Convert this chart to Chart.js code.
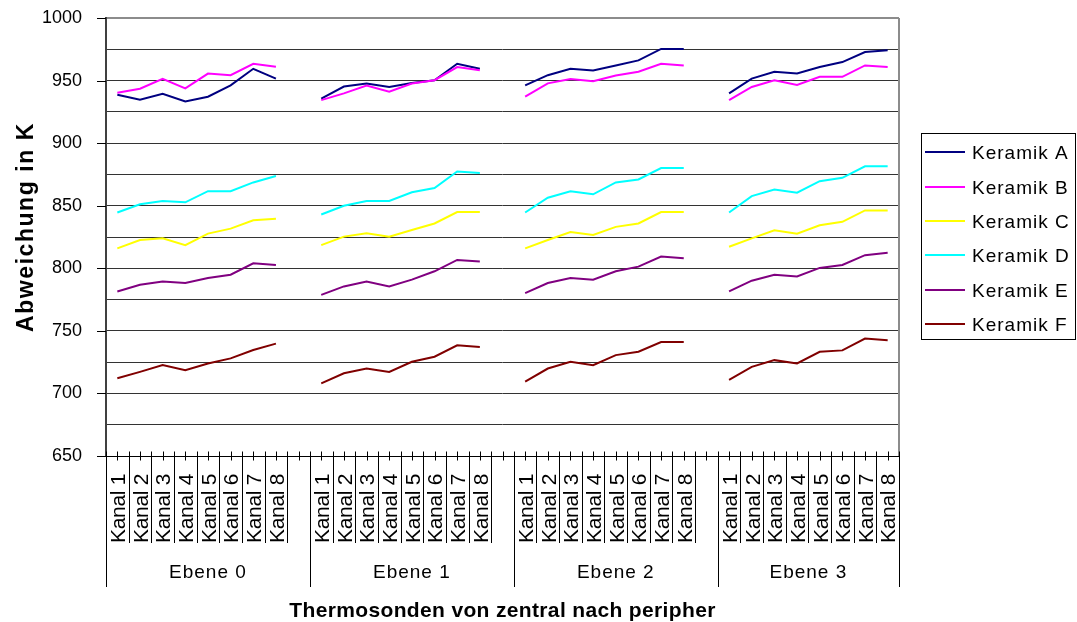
<!DOCTYPE html>
<html lang="de">
<head>
<meta charset="utf-8">
<title>Abweichung je Thermosonde</title>
<script src="https://cdn.jsdelivr.net/npm/chart.js@4/dist/chart.umd.min.js"></script>
<style>
  html, body { margin: 0; padding: 0; background: #fff; }
  canvas { display: block; }
</style>
</head>
<body>
<canvas id="chart" width="1077" height="622"></canvas>
<script>
// Messebenen und Kanäle (Thermosonden von zentral nach peripher)
const levels = ['Ebene 0', 'Ebene 1', 'Ebene 2', 'Ebene 3'];
const channels = ['Kanal 1', 'Kanal 2', 'Kanal 3', 'Kanal 4', 'Kanal 5', 'Kanal 6', 'Kanal 7', 'Kanal 8'];
const yTicks = [650, 700, 750, 800, 850, 900, 950, 1000];

// Werte je Keramik, je Ebene acht Kanäle hintereinander
const keramikA = [
  938.7, 934.7, 939.5, 933.3, 937.1, 946.2, 959.4, 951.6,
  935.5, 945.2, 947.6, 944.9, 948.1, 950.3, 963.4, 959.4,
  946.2, 954.3, 959.4, 958.1, 962.1, 966.1, 975.3, 975.3,
  939.8, 951.6, 957.0, 955.6, 960.8, 964.8, 972.8, 974.2
];
const keramikB = [
  940.3, 943.5, 951.3, 943.8, 955.6, 954.3, 963.4, 961.0,
  934.4, 939.8, 946.0, 941.1, 947.6, 950.3, 960.8, 958.3,
  937.1, 947.8, 951.3, 949.5, 954.0, 957.0, 963.4, 962.1,
  934.4, 944.9, 950.3, 946.5, 953.0, 953.0, 962.1, 960.8
];
const keramikC = [
  815.9, 822.6, 823.9, 818.5, 827.7, 831.7, 838.4, 839.5,
  818.5, 825.3, 828.0, 825.3, 830.6, 835.8, 844.9, 844.9,
  815.9, 822.6, 829.0, 826.6, 833.1, 835.8, 844.9, 844.9,
  817.2, 823.9, 830.4, 827.7, 834.4, 837.1, 846.2, 846.2
];
const keramikD = [
  844.6, 851.1, 853.8, 852.7, 861.6, 861.6, 868.6, 873.7,
  843.0, 850.0, 853.8, 853.8, 860.8, 864.2, 877.4, 876.1,
  844.6, 856.4, 861.6, 859.1, 868.6, 871.0, 880.1, 880.1,
  844.6, 857.7, 862.9, 860.4, 869.6, 872.3, 881.5, 881.5
];
const keramikE = [
  781.5, 786.8, 789.5, 788.2, 792.2, 794.9, 804.0, 802.7,
  778.8, 785.5, 789.5, 785.5, 790.9, 797.6, 806.7, 805.4,
  780.1, 788.2, 792.2, 790.9, 797.6, 801.3, 809.4, 808.1,
  781.5, 790.1, 794.9, 793.5, 800.3, 802.7, 810.5, 812.4
];
const keramikF = [
  712.1, 717.2, 722.6, 718.5, 723.9, 728.0, 734.7, 739.8,
  708.1, 716.1, 719.9, 717.2, 725.3, 729.3, 738.4, 737.1,
  709.4, 719.9, 725.3, 722.6, 730.6, 733.3, 741.1, 741.1,
  710.8, 721.2, 726.6, 724.0, 733.3, 734.4, 743.8, 742.5
];
const seriesNames = ['Keramik A', 'Keramik B', 'Keramik C', 'Keramik D', 'Keramik E', 'Keramik F'];
const seriesValues = [keramikA, keramikB, keramikC, keramikD, keramikE, keramikF];
const seriesColors = ['#000080', '#ff00ff', '#ffff00', '#00ffff', '#800080', '#800000'];

const FONT = '"Liberation Sans", Arial, Helvetica, sans-serif';

// Kategorien: je Ebene acht Kanäle, dazwischen eine leere Kategorie als Lücke
const categoryLabels = [];
const groupStart = [];
levels.forEach((lv, li) => {
  groupStart.push(categoryLabels.length);
  channels.forEach(c => categoryLabels.push(c));
  if (li < levels.length - 1) categoryLabels.push('');
});

function spread(values) {
  const out = [];
  levels.forEach((lv, li) => {
    channels.forEach((c, ci) => out.push(values[li * channels.length + ci]));
    if (li < levels.length - 1) out.push(null);
  });
  return out;
}

const datasets = seriesNames.map((name, i) => ({
  label: name,
  data: spread(seriesValues[i]),
  borderColor: seriesColors[i],
  backgroundColor: seriesColors[i],
  borderWidth: 2,
  pointRadius: 0,
  tension: 0,
  spanGaps: false,
  fill: false,
  order: seriesNames.length - i
}));

function setSpacing(ctx, px) {
  if ('letterSpacing' in ctx) ctx.letterSpacing = px + 'px';
}

function line(ctx, x1, y1, x2, y2) {
  ctx.beginPath();
  ctx.moveTo(x1, y1);
  ctx.lineTo(x2, y2);
  ctx.stroke();
}

// Rahmen, Achsen, zweistufige Kategorienbeschriftung und Legende
const excelFrame = {
  id: 'excelFrame',
  beforeDatasetsDraw(chart) {
    const { ctx, chartArea: a } = chart;
    ctx.save();
    ctx.strokeStyle = '#8c8c8c';
    ctx.lineWidth = 2;
    line(ctx, a.left, a.top, a.right, a.top);
    line(ctx, a.right, a.top, a.right, a.bottom);
    ctx.restore();
  },
  afterDraw(chart) {
    const { ctx, chartArea: a } = chart;
    const xs = chart.scales.x, ys = chart.scales.y;
    const catW = xs.getPixelForValue(1) - xs.getPixelForValue(0);
    const px = v => Math.round(v) + 0.5;
    ctx.save();

    // Y-Achse
    ctx.strokeStyle = '#404040';
    ctx.lineWidth = 2;
    line(ctx, a.left, a.top - 1, a.left, a.bottom + 1);
    ctx.lineWidth = 1;
    ctx.strokeStyle = '#000';
    yTicks.forEach(v => {
      const y = px(ys.getPixelForValue(v));
      line(ctx, a.left - 9, y, a.left, y);
    });

    // X-Achse mit Teilstrichen
    const axisY = px(a.bottom);
    line(ctx, a.left, axisY, a.right, axisY);
    for (let k = 0; k <= categoryLabels.length * 2; k++) {
      const x = px(a.left + k * catW / 2);
      line(ctx, x, axisY - 5, x, axisY + 4);
    }

    // Kanal-Felder und Ebenen-Trenner
    const boxBottom = 543, groupBottom = 587;
    levels.forEach((lv, li) => {
      const gs = groupStart[li];
      const left = xs.getPixelForValue(gs) - catW / 2;
      line(ctx, px(left), axisY, px(left), groupBottom);
      channels.forEach((c, ci) => {
        const right = xs.getPixelForValue(gs + ci) + catW / 2;
        line(ctx, px(right), axisY, px(right), boxBottom);
      });
    });
    line(ctx, px(a.right), axisY, px(a.right), groupBottom);

    ctx.fillStyle = '#000';
    // Kanal-Beschriftung, senkrecht
    ctx.font = '21px ' + FONT;
    setSpacing(ctx, -0.3);
    ctx.textAlign = 'left';
    ctx.textBaseline = 'alphabetic';
    categoryLabels.forEach((lab, i) => {
      if (!lab) return;
      const cx = xs.getPixelForValue(i);
      ctx.save();
      ctx.translate(cx + 7.8, boxBottom);
      ctx.rotate(-Math.PI / 2);
      ctx.fillText(lab, 0, 0);
      ctx.restore();
    });

    // Ebenen-Beschriftung
    ctx.font = '19px ' + FONT;
    setSpacing(ctx, 1);
    ctx.textAlign = 'center';
    levels.forEach((lv, li) => {
      const gs = groupStart[li];
      const ge = li < levels.length - 1 ? groupStart[li + 1] : categoryLabels.length;
      const left = xs.getPixelForValue(gs) - catW / 2;
      const right = xs.getPixelForValue(ge - 1) + catW / 2;
      ctx.fillText(lv, (left + right) / 2, 578);
    });

    // Achsentitel
    ctx.font = 'bold 21px ' + FONT;
    setSpacing(ctx, 0.35);
    ctx.fillText('Thermosonden von zentral nach peripher', (a.left + a.right) / 2, 617);

    ctx.save();
    ctx.font = 'bold 23px ' + FONT;
    setSpacing(ctx, 1.55);
    ctx.translate(33, (a.top + a.bottom) / 2 - 10);
    ctx.rotate(-Math.PI / 2);
    ctx.fillText('Abweichung in K', 0, 0);
    ctx.restore();

    // Legende
    setSpacing(ctx, 0);
    ctx.strokeStyle = '#000';
    ctx.lineWidth = 1;
    ctx.strokeRect(921.5, 133.5, 154, 206);
    ctx.font = '19px ' + FONT;
    setSpacing(ctx, 1);
    ctx.textAlign = 'left';
    seriesNames.forEach((name, i) => {
      const y = 152.3 + i * 34.35;
      ctx.strokeStyle = seriesColors[i];
      ctx.lineWidth = 2;
      line(ctx, 925, Math.round(y), 965, Math.round(y));
      ctx.fillStyle = '#000';
      ctx.fillText(name, 972, Math.round(y) + 6.5);
    });

    ctx.restore();
  }
};

new Chart(document.getElementById('chart'), {
  type: 'line',
  data: { labels: categoryLabels, datasets },
  options: {
    responsive: false,
    animation: false,
    devicePixelRatio: 1,
    layout: { padding: { top: 18, right: 178, left: 0, bottom: 0 } },
    plugins: {
      legend: { display: false },
      tooltip: { enabled: false }
    },
    scales: {
      x: {
        type: 'category',
        offset: true,
        grid: { display: false },
        border: { display: false },
        ticks: { display: false },
        afterFit(s) { s.height = 166; }
      },
      y: {
        min: 650,
        max: 1000,
        grid: { color: '#333', lineWidth: 1, drawTicks: true, tickLength: 24, tickColor: 'rgba(0,0,0,0)' },
        border: { display: false },
        ticks: {
          stepSize: 25,
          padding: 0,
          color: '#000',
          font: { family: FONT, size: 18 },
          callback: v => (yTicks.includes(v) ? String(v) : '')
        },
        afterFit(s) { s.width = 106; }
      }
    }
  },
  plugins: [excelFrame]
});
</script>
</body>
</html>
